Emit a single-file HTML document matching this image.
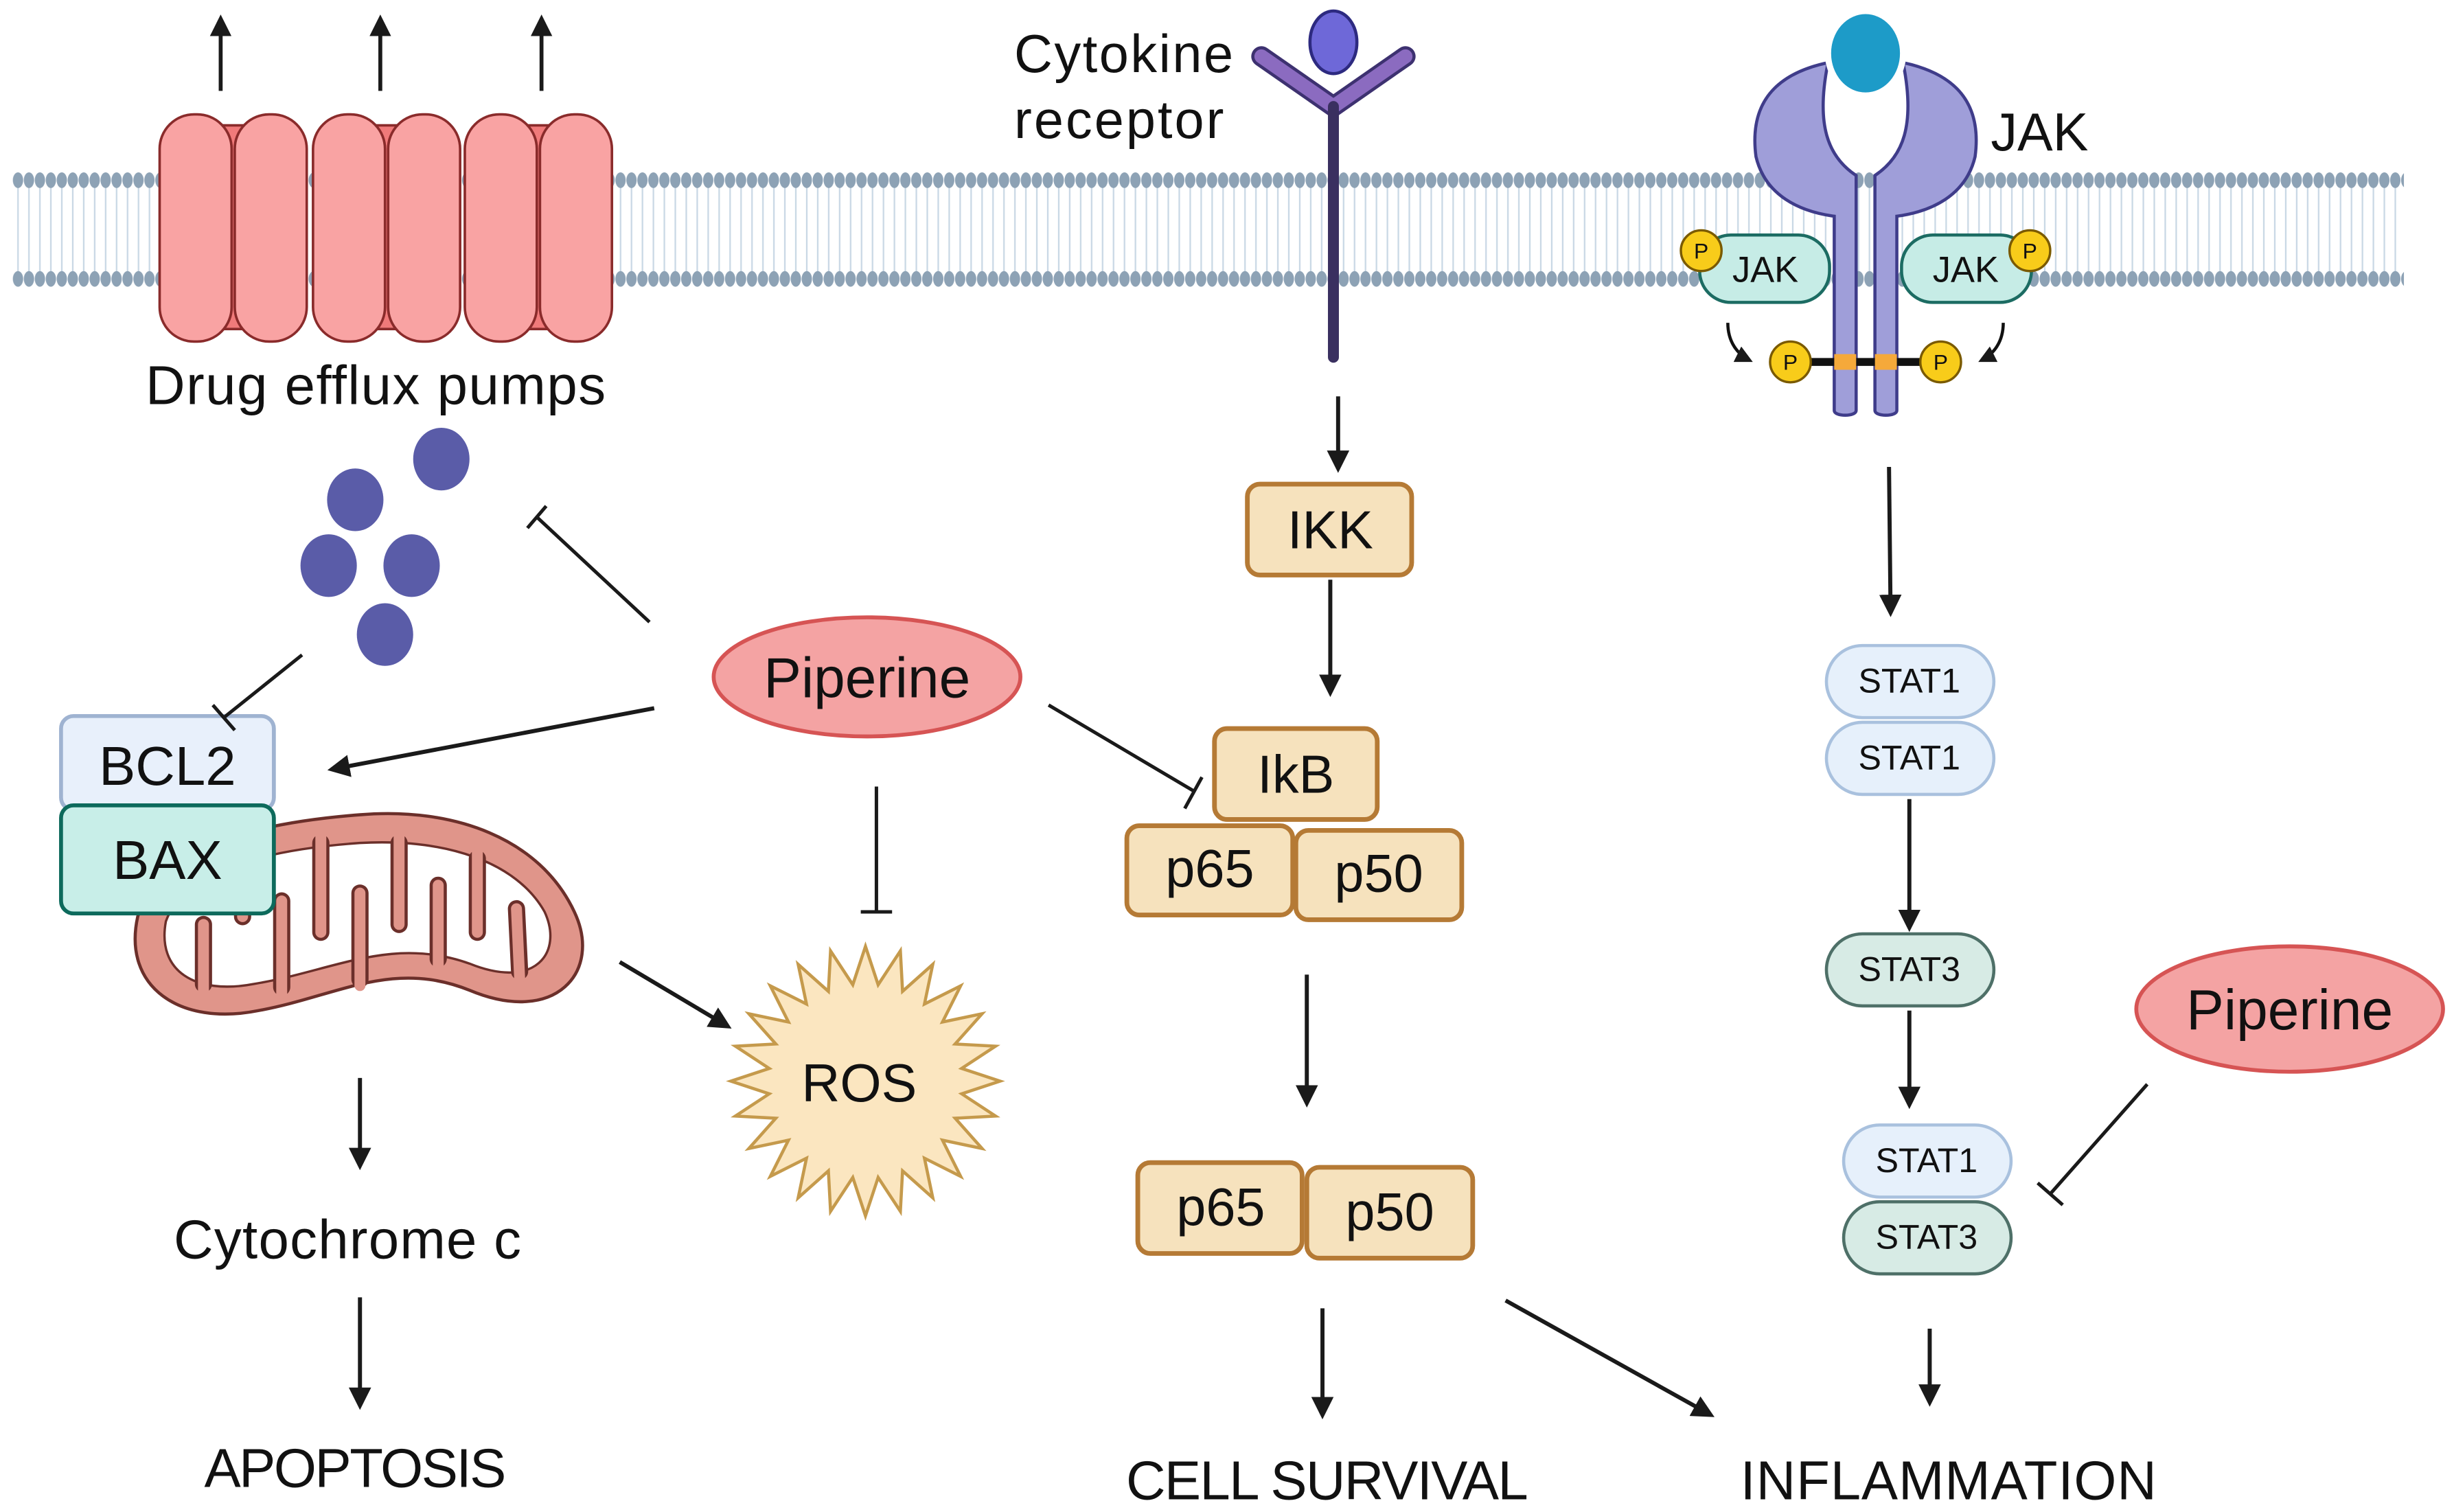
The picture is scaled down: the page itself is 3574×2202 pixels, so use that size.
<!DOCTYPE html>
<html><head><meta charset="utf-8"><style>
html,body{margin:0;padding:0;background:#fff}
svg{display:block}
text{font-family:"Liberation Sans",sans-serif;fill:#111}
</style></head><body>
<svg width="3574" height="2202" viewBox="0 0 1568 965" preserveAspectRatio="none" xmlns="http://www.w3.org/2000/svg">
<defs>
<pattern id="heads" x="8" y="0" width="7" height="965" patternUnits="userSpaceOnUse">
<line x1="3.5" y1="115" x2="3.5" y2="178" stroke="#c9d8e5" stroke-width="1"/>
<ellipse cx="3.5" cy="115" rx="3.3" ry="5" fill="#8da2b5"/>
<ellipse cx="3.5" cy="178" rx="3.3" ry="5" fill="#8da2b5"/>
</pattern>
<marker id="ah" viewBox="0 0 10 10" refX="8" refY="5" markerWidth="5.5" markerHeight="5.5" orient="auto"><path d="M0,0L10,5L0,10z" fill="#1a1a1a"/></marker>
</defs>
<rect width="1568" height="965" fill="#fff"/>
<rect x="8" y="108" width="1528" height="78" fill="url(#heads)"/>

<!-- pumps -->
<g stroke="#8a2b2b" stroke-width="1.6">
<rect x="140" y="80" width="24" height="130" fill="#f07a7a"/>
<rect x="237" y="80" width="24" height="130" fill="#f07a7a"/>
<rect x="336" y="80" width="24" height="130" fill="#f07a7a"/>
<rect x="102" y="73" width="46" height="145" rx="22" fill="#f9a3a3"/>
<rect x="150" y="73" width="46" height="145" rx="22" fill="#f9a3a3"/>
<rect x="200" y="73" width="46" height="145" rx="22" fill="#f9a3a3"/>
<rect x="248" y="73" width="46" height="145" rx="22" fill="#f9a3a3"/>
<rect x="297" y="73" width="46" height="145" rx="22" fill="#f9a3a3"/>
<rect x="345" y="73" width="46" height="145" rx="22" fill="#f9a3a3"/>
</g>
<g stroke="#1a1a1a" stroke-width="2.5" marker-end="url(#ah)">
<line x1="141" y1="58" x2="141" y2="12"/>
<line x1="243" y1="58" x2="243" y2="12"/>
<line x1="346" y1="58" x2="346" y2="12"/>
</g>
<text x="240" y="258" font-size="35" text-anchor="middle" textLength="294">Drug efflux pumps</text>

<!-- cytokine receptor -->
<path d="M806,36 L852,68 L898,36" fill="none" stroke="#3d3170" stroke-width="13" stroke-linecap="round" stroke-linejoin="round"/>
<path d="M806,36 L852,68 L898,36" fill="none" stroke="#8b6bc0" stroke-width="9" stroke-linecap="round" stroke-linejoin="round"/>
<line x1="852" y1="68" x2="852" y2="228" stroke="#3a3060" stroke-width="7" stroke-linecap="round"/>
<ellipse cx="852" cy="27" rx="15" ry="20" fill="#6e68d8" stroke="#2d2a80" stroke-width="2"/>
<text x="648" y="46" font-size="34" textLength="140">Cytokine</text>
<text x="648" y="88" font-size="34" textLength="134">receptor</text>

<!-- JAK receptor -->
<g stroke="#3f3c8a" stroke-width="2" fill="#9f9ed9">
<path d="M1168,40 C1130,48 1118,70 1122,100 C1128,125 1150,135 1172,138 L1172,262 C1172,266 1186,266 1186,262 L1186,112 C1168,100 1160,80 1168,40Z"/>
<path d="M1216,40 C1254,48 1266,70 1262,100 C1256,125 1234,135 1212,138 L1212,262 C1212,266 1198,266 1198,262 L1198,112 C1216,100 1224,80 1216,40Z"/>
</g>
<ellipse cx="1192" cy="34" rx="24" ry="27" fill="#1d9bc8" stroke="#fff" stroke-width="4"/>
<text x="1272" y="96" font-size="34">JAK</text>
<g stroke="#1c6c63" stroke-width="2" fill="#c6ece6">
<rect x="1086" y="150" width="83" height="43" rx="20"/>
<rect x="1215" y="150" width="83" height="43" rx="20"/>
</g>
<text x="1128" y="180" font-size="23" text-anchor="middle">JAK</text>
<text x="1256" y="180" font-size="23" text-anchor="middle">JAK</text>
<line x1="1152" y1="231" x2="1236" y2="231" stroke="#111" stroke-width="5"/>
<rect x="1172" y="226" width="14" height="10" fill="#f5a93a"/>
<rect x="1198" y="226" width="14" height="10" fill="#f5a93a"/>
<g fill="#f8cc1a" stroke="#7a5a00" stroke-width="1.5">
<circle cx="1087" cy="160" r="13"/><circle cx="1297" cy="160" r="13"/>
<circle cx="1144" cy="231" r="13"/><circle cx="1240" cy="231" r="13"/>
</g>
<g font-size="14" text-anchor="middle"><text x="1087" y="165">P</text><text x="1297" y="165">P</text><text x="1144" y="236">P</text><text x="1240" y="236">P</text></g>
<path d="M1104,206 C1104,218 1110,226 1118,230" fill="none" stroke="#111" stroke-width="2" marker-end="url(#ah)"/>
<path d="M1280,206 C1280,218 1274,226 1266,230" fill="none" stroke="#111" stroke-width="2" marker-end="url(#ah)"/>

<!-- drug dots -->
<g fill="#5a5ca8"><ellipse cx="282" cy="293" rx="18" ry="20"/><ellipse cx="227" cy="319" rx="18" ry="20"/><ellipse cx="210" cy="361" rx="18" ry="20"/><ellipse cx="263" cy="361" rx="18" ry="20"/><ellipse cx="246" cy="405" rx="18" ry="20"/></g>

<!-- mitochondrion -->
<path d="M88,585 C78,630 115,655 165,645 C215,636 250,612 300,632 C355,655 385,620 367,582 C345,535 290,515 230,520 C165,525 100,540 88,585Z" fill="#e0958a" stroke="#6b2f2a" stroke-width="2"/>
<path d="M106,588 C100,620 125,635 162,628 C212,620 250,597 300,615 C342,632 360,608 348,582 C330,550 285,535 230,538 C172,542 118,555 106,588Z" fill="#fff" stroke="#6b2f2a" stroke-width="1.5"/>
<g stroke="#6b2f2a" stroke-width="11" stroke-linecap="round"><line x1="130" y1="628" x2="130" y2="590"/><line x1="155" y1="540" x2="155" y2="585"/><line x1="180" y1="630" x2="180" y2="575"/><line x1="205" y1="538" x2="205" y2="595"/><line x1="230" y1="625" x2="230" y2="570"/><line x1="255" y1="538" x2="255" y2="590"/><line x1="280" y1="612" x2="280" y2="565"/><line x1="305" y1="548" x2="305" y2="595"/><line x1="332" y1="620" x2="330" y2="580"/></g>
<g stroke="#e0958a" stroke-width="7" stroke-linecap="round"><line x1="130" y1="632" x2="130" y2="590"/><line x1="155" y1="536" x2="155" y2="585"/><line x1="180" y1="634" x2="180" y2="575"/><line x1="205" y1="534" x2="205" y2="595"/><line x1="230" y1="629" x2="230" y2="570"/><line x1="255" y1="534" x2="255" y2="590"/><line x1="280" y1="616" x2="280" y2="565"/><line x1="305" y1="544" x2="305" y2="595"/><line x1="332" y1="624" x2="330" y2="580"/></g>

<!-- BCL2 / BAX -->
<rect x="39" y="457" width="136" height="60" rx="8" fill="#e8f0fb" stroke="#9fb3d1" stroke-width="2.5"/>
<rect x="39" y="514" width="136" height="69" rx="8" fill="#c8eee8" stroke="#0d6a5c" stroke-width="2.5"/>
<text x="107" y="501" font-size="35" text-anchor="middle">BCL2</text>
<text x="107" y="561" font-size="35" text-anchor="middle">BAX</text>

<!-- Piperine -->
<ellipse cx="554" cy="432" rx="98" ry="38" fill="#f4a3a3" stroke="#d65454" stroke-width="2.5"/>
<text x="554" y="445" font-size="36" text-anchor="middle">Piperine</text>
<ellipse cx="1463" cy="644" rx="98" ry="40" fill="#f4a3a3" stroke="#d65454" stroke-width="2.5"/>
<text x="1463" y="657" font-size="36" text-anchor="middle">Piperine</text>

<!-- ROS -->
<polygon id="star" fill="#fbe6c0" stroke="#c59a4c" stroke-width="2"/>
<text x="549" y="703" font-size="34" text-anchor="middle">ROS</text>

<!-- NF-kB boxes -->
<g fill="#f6e2bd" stroke="#b57a35" stroke-width="3">
<rect x="797" y="309" width="105" height="58" rx="8"/>
<rect x="776" y="465" width="104" height="58" rx="8"/>
<rect x="720" y="527" width="106" height="57" rx="8"/>
<rect x="828" y="530" width="106" height="57" rx="8"/>
<rect x="727" y="742" width="105" height="58" rx="8"/>
<rect x="835" y="745" width="106" height="58" rx="8"/>
</g>
<g font-size="34" text-anchor="middle">
<text x="850" y="350">IKK</text><text x="828" y="506">IkB</text>
<text x="773" y="566">p65</text><text x="881" y="569">p50</text>
<text x="780" y="782">p65</text><text x="888" y="785">p50</text>
</g>

<!-- STATs -->
<g stroke-width="2">
<rect x="1167" y="412" width="107" height="46" rx="23" fill="#e6f0fb" stroke="#a9c1de"/>
<rect x="1167" y="461" width="107" height="46" rx="23" fill="#e6f0fb" stroke="#a9c1de"/>
<rect x="1167" y="596" width="107" height="46" rx="23" fill="#d7ebe5" stroke="#4e7068"/>
<rect x="1178" y="718" width="107" height="46" rx="23" fill="#e6f0fb" stroke="#a9c1de"/>
<rect x="1178" y="767" width="107" height="46" rx="23" fill="#d7ebe5" stroke="#4e7068"/>
</g>
<g font-size="22" text-anchor="middle">
<text x="1220" y="442">STAT1</text><text x="1220" y="491">STAT1</text><text x="1220" y="626">STAT3</text>
<text x="1231" y="748">STAT1</text><text x="1231" y="797">STAT3</text>
</g>

<!-- arrows -->
<g stroke="#1a1a1a" stroke-width="2.6" marker-end="url(#ah)">
<line x1="855" y1="253" x2="855" y2="299"/>
<line x1="850" y1="370" x2="850" y2="442"/>
<line x1="1207" y1="298" x2="1208" y2="391"/>
<line x1="1220" y1="510" x2="1220" y2="592"/>
<line x1="1220" y1="645" x2="1220" y2="705"/>
<line x1="835" y1="622" x2="835" y2="704"/>
<line x1="230" y1="688" x2="230" y2="744"/>
<line x1="230" y1="828" x2="230" y2="897"/>
<line x1="845" y1="835" x2="845" y2="903"/>
<line x1="962" y1="830" x2="1093" y2="903"/>
<line x1="1233" y1="848" x2="1233" y2="895"/>
<line x1="418" y1="452" x2="212" y2="491"/>
<line x1="396" y1="614" x2="465" y2="655"/>
</g>
<g stroke="#1a1a1a" stroke-width="2.2" fill="none">
<path d="M415,397 L343,330 M337,337 L349,323"/>
<path d="M193,418 L143,458 M136,450 L150,466"/>
<path d="M670,450 L763,505 M757,516 L768,496"/>
<path d="M560,502 L560,582 M550,582 L570,582"/>
<path d="M1372,692 L1310,762 M1302,755 L1318,769"/>
</g>

<g font-size="35" text-anchor="middle">
<text x="222" y="803" textLength="222">Cytochrome c</text>
<text x="227" y="949" textLength="193">APOPTOSIS</text>
<text x="848" y="957" textLength="257">CELL SURVIVAL</text>
<text x="1245" y="957" textLength="266">INFLAMMATION</text>
</g>
</svg>
<script>
var p=[],cx=553,cy=690,n=24;
for(var i=0;i<2*n;i++){var a=i*Math.PI/n-Math.PI/2,r=i%2?62:86;p.push((cx+r*Math.cos(a)).toFixed(1)+","+(cy+r*Math.sin(a)).toFixed(1));}
document.getElementById("star").setAttribute("points",p.join(" "));
</script>
</body></html>
